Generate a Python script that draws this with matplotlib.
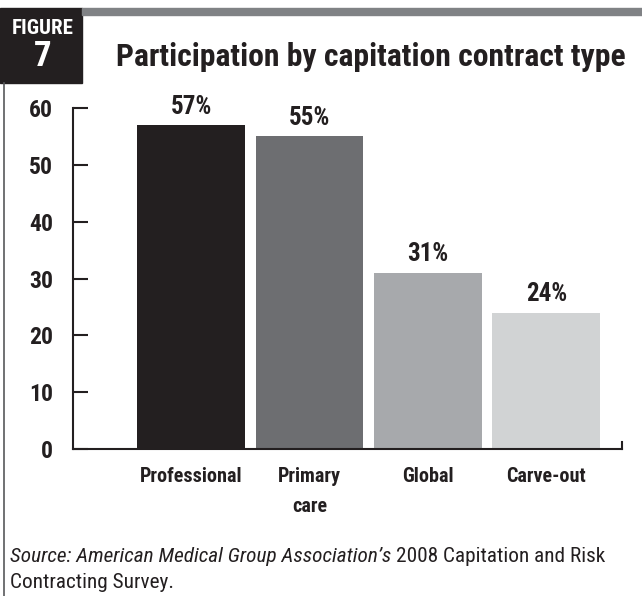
import matplotlib
matplotlib.use("Agg")
import matplotlib.pyplot as plt
from matplotlib.patches import Rectangle
from matplotlib.lines import Line2D

plt.rcParams["font.family"] = ["Roboto Condensed", "Barlow Condensed", "DejaVu Sans"]

categories = ["Professional", "Primary\ncare", "Global", "Carve-out"]
values = [57, 55, 31, 24]
yticks = [0, 10, 20, 30, 40, 50, 60]
colors = ["#231f20", "#6d6e71", "#a7a9ac", "#d1d3d4"]
ink = "#231f20"

W, H = 642, 596
fig = plt.figure(figsize=(W / 100, H / 100), dpi=100)

def px(x0, y0, x1, y1):
    # pixel box (top-left origin) -> figure fraction rect
    return [x0 / W, 1 - y1 / H, (x1 - x0) / W, (y1 - y0) / H]

# header: black label box, grey rule, left frame line
fig.patches.append(Rectangle((0, 1 - 83 / H), 82 / W, 75 / H, transform=fig.transFigure,
                             color=ink, zorder=1))
fig.patches.append(Rectangle((82 / W, 1 - 15 / H), 1 - 82 / W, 7 / H, transform=fig.transFigure,
                             color="#808285", zorder=1))
fig.lines.append(Line2D([4 / W, 4 / W], [0, 1 - 83 / H], transform=fig.transFigure,
                        color="#58595b", lw=1.2))
fig.text(43 / W, 1 - 29 / H, "FIGURE", color="white", ha="center", va="center",
         fontsize=15, fontweight="bold")
fig.text(43 / W, 1 - 56 / H, "7", color="white", ha="center", va="center",
         fontsize=25, fontweight="bold")
fig.text(371 / W, 1 - 57 / H, "Participation by capitation contract type", color=ink,
         ha="center", va="center", fontsize=22.8, fontweight="bold")

ax = fig.add_axes(px(73, 108, 622, 449))
x = list(range(len(categories)))
bars = ax.bar(x, values, width=0.91, color=colors, zorder=2)
for b, v in zip(bars, values):
    ax.text(b.get_x() + b.get_width() / 2, v + 2.0, f"{v}%", ha="center", va="baseline",
            fontsize=18, fontweight="bold", color=ink)

ax.set_xlim(-1.0, 3.64)
ax.set_ylim(0, 60)
ax.set_yticks(yticks)
ax.set_xticks(x)
ax.set_xticklabels(categories, fontsize=14.5, fontweight="bold", color=ink,
                   linespacing=1.7, va="top")
ax.tick_params(axis="x", length=0, pad=13)
ax.tick_params(axis="y", direction="in", length=11, width=1.5, color=ink, pad=14.5,
               labelsize=17, labelcolor=ink)
for lab in ax.get_yticklabels():
    lab.set_fontweight("bold")
for s in ["top", "right"]:
    ax.spines[s].set_visible(False)
for s in ["left", "bottom"]:
    ax.spines[s].set_linewidth(1.5)
    ax.spines[s].set_color(ink)
ax.plot([1, 1], [0, 0.02], transform=ax.transAxes, color=ink, lw=1.5, clip_on=False)

# source note: italic publisher, upright survey name on the same baseline
src = fig.text(10 / W, 1 - 562 / H, "Source: American Medical Group Association’s ", style="italic",
               fontsize=15.3, color=ink, va="baseline")
r = fig.canvas.get_renderer()
bb = src.get_window_extent(r)
fig.text(bb.x1 / W, 1 - 562 / H, "2008 Capitation and Risk", fontsize=15.3, color=ink,
         va="baseline")
fig.text(10 / W, 1 - 588 / H, "Contracting Survey.", fontsize=15.3, color=ink, va="baseline")

fig.savefig("out.png", dpi=100)
